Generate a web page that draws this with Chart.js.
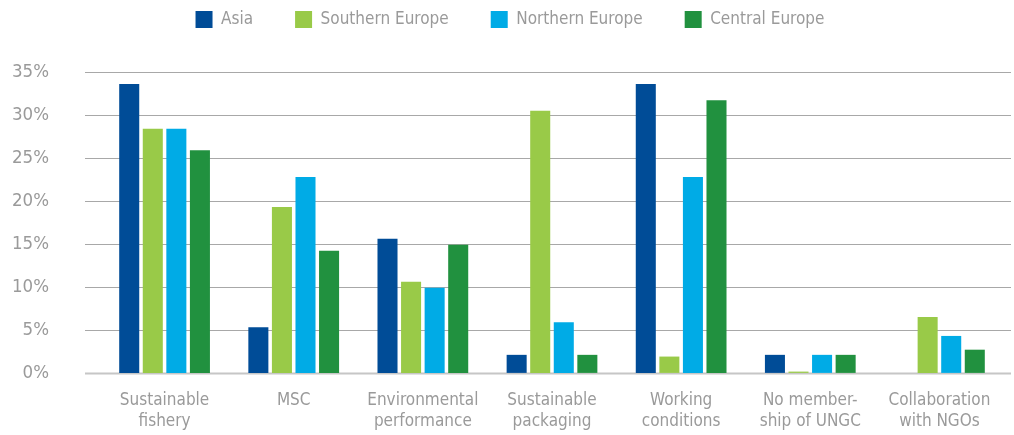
<!DOCTYPE html>
<html>
<head>
<meta charset="utf-8">
<script src="https://cdn.jsdelivr.net/npm/chart.js@4.4.0/dist/chart.umd.min.js"></script>
<style>
html,body{margin:0;padding:0;background:#fff;}
#wrap{width:1014px;height:435px;position:relative;}
</style>
</head>
<body>
<div id="wrap"><canvas id="c" width="1014" height="435"></canvas></div>
<script>
const categories = [
  ["Sustainable","fishery"],
  ["MSC"],
  ["Environmental","performance"],
  ["Sustainable","packaging"],
  ["Working","conditions"],
  ["No member-","ship of UNGC"],
  ["Collaboration","with NGOs"]
];
const seriesNames = ["Asia","Southern Europe","Northern Europe","Central Europe"];
const asia     = [33.6, 5.3, 15.6, 2.1, 33.6, 2.1, 0];
const southern = [28.4, 19.3, 10.6, 30.5, 1.9, 0.15, 6.5];
const northern = [28.4, 22.8, 9.9, 5.9, 22.8, 2.1, 4.3];
const central  = [25.9, 14.2, 14.9, 2.1, 31.7, 2.1, 2.7];
const yTicks = [0,5,10,15,20,25,30,35];
const colors = ["#004c97","#99ca48","#00abe6","#21913f"];

const FONT = "'DejaVu Sans Condensed','DejaVu Sans',sans-serif";
const TXT = "#9a9a9a";

const gridPlugin = {
  id: 'customGrid',
  beforeDatasetsDraw(chart) {
    const ctx = chart.ctx, y = chart.scales.y, a = chart.chartArea;
    ctx.save();
    yTicks.forEach(v => {
      const py = Math.round(y.getPixelForValue(v)) + 0.5;
      ctx.beginPath();
      if (v === 0) { ctx.strokeStyle = '#c6c6c6'; ctx.lineWidth = 2; }
      else { ctx.strokeStyle = '#a8a8a8'; ctx.lineWidth = 1.2; }
      ctx.moveTo(a.left - 15, py);
      ctx.lineTo(a.right + 7, py);
      ctx.stroke();
    });
    ctx.restore();
  }
};

const legendShift = {
  id: 'legendShift',
  afterLayout(chart) {
    const lg = chart.legend;
    if (!lg) return;
    const dy = -34, dx = 8;
    lg.top += dy; lg.bottom += dy;
    lg.left += dx; lg.right += dx;
  }
};

new Chart(document.getElementById('c'), {
  type: 'bar',
  data: {
    labels: categories,
    datasets: [asia, southern, northern, central].map((d, i) => ({
      label: seriesNames[i],
      data: d,
      backgroundColor: colors[i],
      borderWidth: 0,
      categoryPercentage: 0.73,
      barPercentage: 0.85
    }))
  },
  options: {
    responsive: false,
    animation: false,
    layout: { padding: { left: 0, right: 10, top: 3, bottom: -15 } },
    plugins: {
      legend: {
        position: 'top',
        labels: {
          boxWidth: 17, boxHeight: 17, padding: 42,
          color: TXT,
          font: { family: FONT, size: 17 }
        }
      },
      tooltip: { enabled: false }
    },
    scales: {
      x: {
        grid: { display: false, drawTicks: false },
        border: { display: false },
        ticks: {
          color: TXT, padding: 17, maxRotation: 0, autoSkip: false,
          font: { family: FONT, size: 17, lineHeight: 1.25 }
        }
      },
      y: {
        min: 0, max: 35,
        afterFit(s) { s.width = 100; },
        grid: { display: false, drawTicks: false },
        border: { display: false },
        ticks: {
          stepSize: 5, padding: 51, color: TXT,
          font: { family: FONT, size: 18.5 },
          callback: v => v + '%'
        }
      }
    }
  },
  plugins: [gridPlugin, legendShift]
});
</script>
</body>
</html>
